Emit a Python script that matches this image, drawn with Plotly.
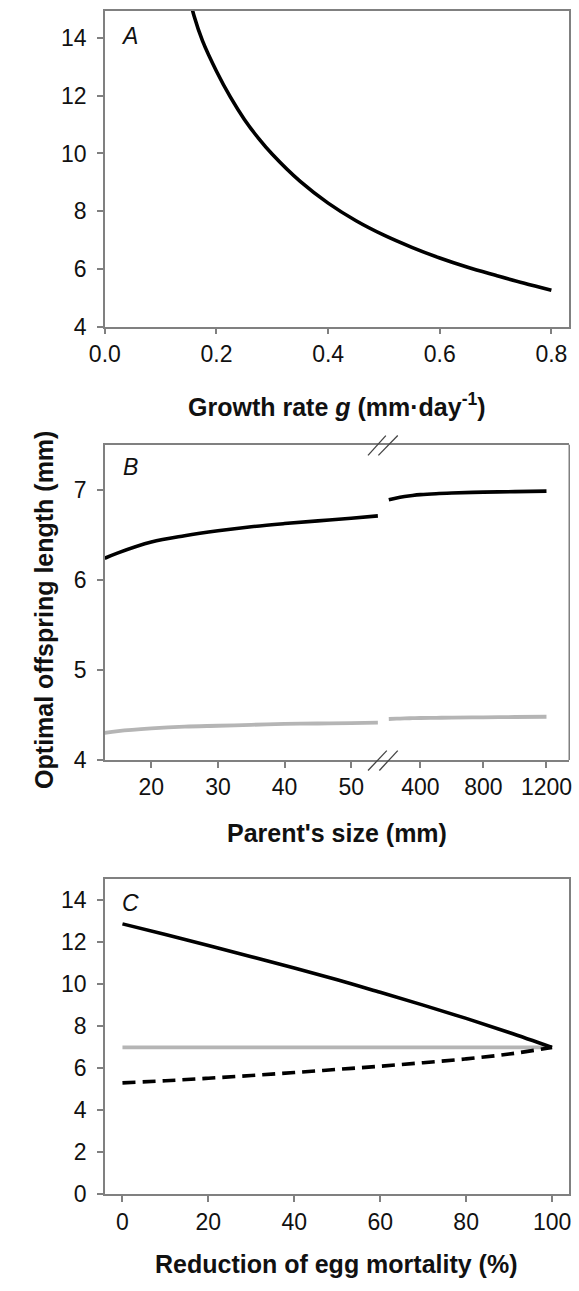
import plotly.graph_objects as go

# ---------------- data ----------------
# Panel A: optimal offspring length vs growth rate g
a_growth = [0.15, 0.16, 0.175, 0.2, 0.225, 0.25, 0.275, 0.3, 0.35, 0.4, 0.45, 0.5, 0.55, 0.6, 0.65, 0.7, 0.75, 0.8]
a_length = [15.55, 14.75, 13.9, 12.85, 11.95, 11.18, 10.53, 9.97, 9.03, 8.28, 7.67, 7.17, 6.75, 6.38, 6.06, 5.78, 5.51, 5.26]

# Panel B: parent's size (broken axis)
b_size_small = [13, 15, 20, 25, 30, 35, 40, 45, 50, 54]
b_black_small = [6.24, 6.30, 6.42, 6.49, 6.545, 6.59, 6.625, 6.655, 6.685, 6.71]
b_gray_small = [4.30, 4.32, 4.35, 4.37, 4.38, 4.39, 4.40, 4.405, 4.41, 4.415]
b_size_large = [200, 250, 300, 350, 400, 500, 600, 800, 1000, 1200]
b_black_large = [6.89, 6.91, 6.925, 6.937, 6.946, 6.957, 6.964, 6.974, 6.98, 6.985]
b_gray_large = [4.455, 4.458, 4.462, 4.464, 4.466, 4.468, 4.47, 4.474, 4.477, 4.48]

# Panel C: reduction of egg mortality
c_reduction = [0, 10, 20, 30, 40, 50, 60, 70, 80, 90, 100]
c_black = [12.88, 12.37, 11.85, 11.32, 10.78, 10.22, 9.62, 9.01, 8.38, 7.71, 7.0]
c_gray = [7.0, 7.0, 7.0, 7.0, 7.0, 7.0, 7.0, 7.0, 7.0, 7.0, 7.0]
c_dashed = [5.31, 5.41, 5.53, 5.66, 5.8, 5.95, 6.1, 6.27, 6.45, 6.68, 7.0]

# ---------------- layout helpers ----------------
W, H = 579, 1291
def px(x):
    return x / W
def py(y):
    return 1 - y / H

FONT = "Liberation Sans, Arial, sans-serif"
AX = "#808080"
BLACK = "#000000"
GRAY = "#b5b5b5"

x_dom = [px(91.7), px(571)]
x_break = px(378.5)

common_axis = dict(showgrid=False, zeroline=False, showline=True, linecolor=AX, linewidth=1.5,
                   ticks="outside", ticklen=6, tickcolor=AX, tickwidth=1.5,
                   tickfont=dict(family=FONT, size=23, color="#111111"))

fig = go.Figure()

# Panel A
fig.add_trace(go.Scatter(x=a_growth, y=a_length, mode="lines", line=dict(color=BLACK, width=3.6, shape="spline"),
                         xaxis="x", yaxis="y", showlegend=False, cliponaxis=True))

# Panel B
fig.add_trace(go.Scatter(x=b_size_small, y=b_black_small, mode="lines", line=dict(color=BLACK, width=3.6, shape="spline"),
                         xaxis="x2", yaxis="y2", showlegend=False))
fig.add_trace(go.Scatter(x=b_size_small, y=b_gray_small, mode="lines", line=dict(color=GRAY, width=3.8, shape="spline"),
                         xaxis="x2", yaxis="y2", showlegend=False))
fig.add_trace(go.Scatter(x=b_size_large, y=b_black_large, mode="lines", line=dict(color=BLACK, width=3.6, shape="spline"),
                         xaxis="x3", yaxis="y2", showlegend=False))
fig.add_trace(go.Scatter(x=b_size_large, y=b_gray_large, mode="lines", line=dict(color=GRAY, width=3.8, shape="spline"),
                         xaxis="x3", yaxis="y2", showlegend=False))

# Panel C
fig.add_trace(go.Scatter(x=c_reduction, y=c_gray, mode="lines", line=dict(color=GRAY, width=3.8),
                         xaxis="x4", yaxis="y3", showlegend=False))
fig.add_trace(go.Scatter(x=c_reduction, y=c_black, mode="lines", line=dict(color=BLACK, width=3.6, shape="spline"),
                         xaxis="x4", yaxis="y3", showlegend=False))
fig.add_trace(go.Scatter(x=c_reduction, y=c_dashed, mode="lines",
                         line=dict(color=BLACK, width=3.6, shape="spline", dash="13px,7px"),
                         xaxis="x4", yaxis="y3", showlegend=False))

fig.update_layout(
    width=W, height=H, margin=dict(l=0, r=0, t=0, b=0),
    paper_bgcolor="white", plot_bgcolor="white",
    xaxis=dict(common_axis, domain=x_dom, anchor="y", range=[0, 0.832],
               tickvals=[0, 0.2, 0.4, 0.6, 0.8], tickformat=".1f", mirror=True),
    yaxis=dict(common_axis, domain=[py(330), py(10.7)], anchor="x", range=[4, 14.95],
               tickvals=[4, 6, 8, 10, 12, 14], mirror=True, ticklabelstandoff=6),
    xaxis2=dict(common_axis, domain=[x_dom[0], x_break], anchor="y2", range=[13.02, 54.73],
                tickvals=[20, 30, 40, 50], mirror=True),
    xaxis3=dict(common_axis, domain=[x_break, x_dom[1]], anchor="y2", range=[161.6, 1344.4],
                tickvals=[400, 800, 1200], mirror=True),
    yaxis2=dict(common_axis, domain=[py(767.7), py(449.3)], anchor="x2", range=[4, 7.5],
                tickvals=[4, 5, 6, 7], mirror=False, ticklabelstandoff=6),
    xaxis4=dict(common_axis, domain=x_dom, anchor="y3", range=[-4.1, 104],
                tickvals=[0, 20, 40, 60, 80, 100], mirror=True),
    yaxis3=dict(common_axis, domain=[py(1206.5), py(888.3)], anchor="x4", range=[0, 15],
                tickvals=[0, 2, 4, 6, 8, 10, 12, 14], mirror=True, ticklabelstandoff=6),
)

# right border of panel B and break marks
shapes = [
    dict(type="line", xref="paper", yref="paper", x0=x_dom[1], x1=x_dom[1], y0=py(767.7), y1=py(449.3),
         line=dict(color=AX, width=1.5)),
]
for (x0, y0, x1, y1) in [(363.3, 460, 381.7, 440), (374, 460, 394, 440),
                         (363.3, 778.3, 382.7, 758.3), (375, 778.3, 394, 758.3)]:
    shapes.append(dict(type="line", xref="paper", yref="paper", x0=px(x0), y0=py(y0), x1=px(x1), y1=py(y1),
                       line=dict(color="#444444", width=1.3)))
fig.update_layout(shapes=shapes)

title_font = dict(family=FONT, size=25, color="#111111", weight="bold")
letter_font = dict(family=FONT, size=23, color="#111111", style="italic")
ann = [
    dict(text="Growth rate <i>g</i> (mm·day<sup>-1</sup>)", x=px(331), y=py(409), font=title_font),
    dict(text="Parent's size (mm)", x=px(331), y=py(841), font=title_font),
    dict(text="Reduction of egg mortality (%)", x=px(331), y=py(1277), font=title_font),
    dict(text="Optimal offspring length (mm)", x=px(29), y=py(616), font=title_font, textangle=-90),
    dict(text="A", x=px(117), y=py(36), font=letter_font),
    dict(text="B", x=px(118), y=py(472), font=letter_font),
    dict(text="C", x=px(118), y=py(912), font=letter_font),
]
for a in ann:
    a.update(xref="paper", yref="paper", showarrow=False, xanchor="center", yanchor="middle")
fig.update_layout(annotations=ann)

fig.write_html("out.html")
